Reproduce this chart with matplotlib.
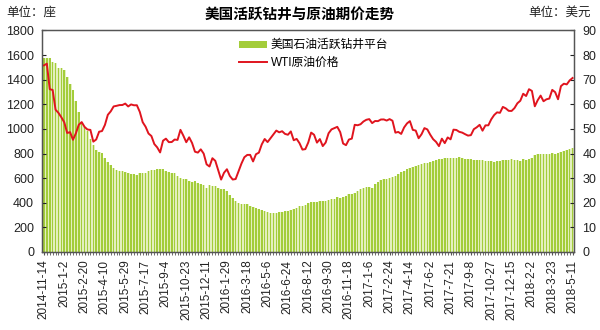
import matplotlib
matplotlib.use('Agg')
import matplotlib.pyplot as plt
import numpy as np
import pandas as pd

plt.rcParams['font.family'] = ['Liberation Sans', 'Noto Sans CJK SC']
plt.rcParams['axes.unicode_minus'] = False

#-Weekly US active oil rigs (Baker Hughes) and WTI front month close, 2014-11-14 .. 2018-5-11
rigs = [1574, 1574, 1575, 1546, 1536, 1499, 1499,
        # 2015
        1482, 1421, 1366, 1317, 1223, 1140, 1056, 1019, 986, 922, 866, 825, 813,
        802, 760, 734, 703, 679, 668, 660, 659, 646, 642, 635, 631, 628,
        640, 645, 638, 659, 664, 670, 672, 674, 675, 662, 652, 644, 640,
        614, 605, 595, 594, 578, 572, 574, 564, 555, 545, 524, 541, 538, 536,
        # 2016
        516, 515, 510, 498, 467, 439, 413, 400, 392, 386, 387, 372,
        362, 354, 351, 343, 332, 328, 318, 318, 316, 325, 328, 337, 330,
        341, 351, 357, 371, 374, 381, 396, 406, 406, 407, 414, 416, 418, 425,
        428, 432, 443, 441, 450, 452, 471, 474, 477, 498, 510, 523, 525,
        # 2017
        529, 522, 551, 566, 583, 591, 597, 602, 609, 617, 631, 652, 662,
        672, 683, 688, 697, 703, 712, 720, 722, 733, 741, 747, 758, 756,
        763, 765, 764, 766, 765, 768, 763, 759, 759, 756, 749, 744, 750,
        748, 743, 736, 737, 729, 738, 738, 747, 749, 751, 752, 747, 747,
        # 2018
        742, 752, 747, 759, 765, 791, 798, 799, 800, 796, 800, 804, 797,
        808, 815, 820, 825, 834, 844]

wti = [75.82, 76.51, 66.15, 65.84, 57.81, 56.52, 54.73,
       # 2015
       52.69, 48.36, 48.69, 45.59, 48.24, 51.69, 52.78, 50.81, 49.76, 49.61, 44.84, 45.72, 48.87,
       49.14, 51.64, 55.74, 57.15, 59.15, 59.39, 59.69, 59.72, 60.30, 59.13, 59.96, 59.61, 59.63,
       56.93, 52.74, 50.89, 48.14, 47.12, 43.87, 42.50, 40.45, 45.22, 46.05, 44.63, 44.68, 45.70,
       45.54, 49.63, 47.26, 44.60, 46.59, 44.29, 40.74, 40.39, 41.71, 39.97, 35.62, 34.73, 38.10, 37.04,
       # 2016
       33.16, 29.42, 32.19, 33.62, 30.89, 29.44, 29.64, 32.78, 35.92, 38.50, 39.44, 39.46,
       36.79, 39.72, 40.36, 43.73, 45.92, 44.66, 46.21, 47.75, 49.33, 48.62, 49.07, 47.98, 47.64,
       48.99, 45.41, 45.95, 44.19, 41.60, 41.80, 44.49, 48.52, 47.64, 44.44, 45.88, 43.03, 44.48, 48.24,
       49.81, 50.35, 50.85, 48.70, 44.07, 43.41, 45.69, 46.06, 51.68, 51.50, 51.90, 53.02, 53.72,
       # 2017
       53.99, 52.37, 53.22, 53.17, 53.83, 53.86, 53.40, 53.99, 53.33, 48.49, 48.78, 47.97, 50.60,
       52.24, 53.18, 49.62, 49.33, 46.22, 47.84, 50.33, 49.80, 47.66, 45.83, 44.74, 43.01, 46.04,
       44.23, 46.54, 45.77, 49.71, 49.58, 48.82, 48.51, 47.87, 47.29, 47.48, 49.89, 50.66, 51.67,
       49.29, 51.45, 51.47, 53.90, 55.64, 56.74, 56.55, 58.95, 58.36, 57.36, 57.30, 58.47, 60.42,
       # 2018
       61.44, 64.30, 63.37, 66.14, 65.45, 59.20, 61.68, 63.55, 61.25, 62.04, 62.34, 65.88, 64.94,
       62.06, 67.39, 68.38, 68.10, 69.72, 70.70]

weeks = pd.date_range('2014-11-14', periods=len(rigs), freq='7D')
labels = ['%d-%d-%d' % (d.year, d.month, d.day) for d in weeks]

title = '美国活跃钻井与原油期价走势'
bar_name = '美国石油活跃钻井平台'
line_name = 'WTI原油价格'

fig = plt.figure(figsize=(6, 3.3), dpi=100, facecolor='w')
ax = fig.add_axes([0.0708, 0.2364, 0.8859, 0.6712])
x = np.arange(len(rigs))

#-pale full-width underlay gives the striped gradient look of the columns
ax.bar(x, rigs, width=1.0, color='#E3EFBE', linewidth=0)
bars = ax.bar(x, rigs, width=0.55, color='#A3CD3A', linewidth=0, label=bar_name)
ax.set_xlim(-0.5, len(rigs) - 0.5)
ax.set_ylim(0, 1800)
ax.set_yticks(np.arange(0, 1801, 200))
ax.tick_params(axis='y', direction='in', length=3, labelsize=9, pad=6, colors='#222222')

#-Ticks on every week, labels every 7 weeks
ax.set_xticks(x, minor=True)
ax.set_xticks(x[::7])
ax.set_xticklabels(labels[::7], rotation=90, fontsize=8.5, color='#222222')
ax.tick_params(axis='x', which='both', direction='out', length=2, color='#555555')

ax2 = ax.twinx()
line, = ax2.plot(x, wti, color='#E0141E', linewidth=1.4, label=line_name)
ax2.set_ylim(0, 90)
ax2.set_yticks(np.arange(0, 91, 10))
ax2.tick_params(axis='y', direction='in', length=3, labelsize=9, pad=6, colors='#222222')

for a in (ax, ax2):
    for s in a.spines.values():
        s.set_color('#555555')
        s.set_linewidth(0.9)

ax.legend([bars, line], [bar_name, line_name], loc='upper left',
          bbox_to_anchor=(0.39, 0.895), bbox_transform=fig.transFigure,
          frameon=False, fontsize=8.5, handlelength=2.4, handleheight=0.5,
          labelspacing=0.45, handletextpad=0.3, borderaxespad=0)

fig.text(0.5, 0.955, title, ha='center', va='center', fontsize=10.5, fontweight='bold')
fig.text(0.01, 0.96, '单位：座', ha='left', va='center', fontsize=9, color='#222222')
fig.text(0.985, 0.96, '单位：美元', ha='right', va='center', fontsize=9, color='#222222')

fig.savefig('out.png', dpi=100, facecolor='w')
